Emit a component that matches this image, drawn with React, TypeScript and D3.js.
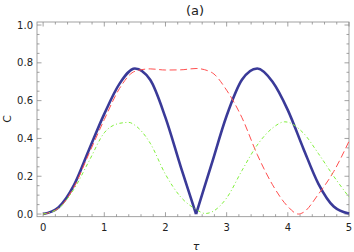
import React, { Component } from 'react';
import * as d3 from 'd3';

// blue (solid) curve, cusp at tau = 2.5
const blueTau = [0, 0.25, 0.5, 0.75, 1.0, 1.25, 1.5, 1.75, 2.0, 2.25, 2.5, 2.75, 3.0, 3.25, 3.5, 3.75, 4.0, 4.25, 4.5, 4.75, 5.0];
const blueC = [0, 0.035, 0.15, 0.34, 0.53, 0.69, 0.77, 0.71, 0.51, 0.25, 0, 0.26, 0.52, 0.71, 0.77, 0.7, 0.55, 0.35, 0.16, 0.04, 0.003];

// red (dashed) curve
const redTau = [0, 0.25, 0.5, 0.75, 1.0, 1.25, 1.5, 1.75, 2.0, 2.25, 2.5, 2.75, 3.0, 3.25, 3.5, 3.75, 4.0, 4.17, 4.25, 4.5, 4.75, 5.0];
const redC = [0, 0.03, 0.14, 0.32, 0.5, 0.665, 0.755, 0.768, 0.762, 0.763, 0.77, 0.75, 0.655, 0.51, 0.315, 0.155, 0.04, 0, 0.008, 0.105, 0.225, 0.385];

// green (dash-dot) curve
const greenTau = [0, 0.25, 0.5, 0.75, 1.0, 1.25, 1.4, 1.5, 1.75, 2.0, 2.25, 2.5, 2.65, 2.75, 3.0, 3.25, 3.5, 3.75, 3.95, 4.25, 4.5, 4.75, 5.0];
const greenC = [0, 0.03, 0.13, 0.28, 0.43, 0.48, 0.485, 0.47, 0.375, 0.21, 0.09, 0.025, 0.003, 0.01, 0.085, 0.23, 0.365, 0.455, 0.488, 0.43, 0.32, 0.2, 0.09];

const xMajor = [0, 1, 2, 3, 4, 5];
const yMajor = [0, 0.2, 0.4, 0.6, 0.8, 1.0];

const W = 354, H = 252;
const frame = { left: 37, right: 349, top: 22, bottom: 216.7 };

class Chart extends Component {
    el: SVGGElement | null = null;

    componentDidMount() {
        this.draw();
    }

    draw() {
        const g = d3.select(this.el);
        g.selectAll('*').remove();

        const x = d3.scaleLinear().domain([-0.1, 5.0]).range([frame.left, frame.right]);
        const y = d3.scaleLinear().domain([-0.014, 1.016]).range([frame.bottom, frame.top]);

        const font = 'DejaVu Sans, sans-serif';
        const frameColor = '#8a8a8a';

        // ticks (inward, all four sides)
        const xMinor = d3.range(0, 5.0001, 0.2).filter(v => !xMajor.some(m => Math.abs(m - v) < 1e-6));
        const yMinor = d3.range(0, 1.0001, 0.05).filter(v => !yMajor.some(m => Math.abs(m - v) < 1e-6));
        const ticks = g.append('g').attr('stroke', frameColor).attr('stroke-width', 0.8);
        const addX = (vals: number[], len: number) => {
            vals.forEach(v => {
                ticks.append('line').attr('x1', x(v)).attr('x2', x(v)).attr('y1', frame.bottom).attr('y2', frame.bottom - len);
                ticks.append('line').attr('x1', x(v)).attr('x2', x(v)).attr('y1', frame.top).attr('y2', frame.top + len);
            });
        };
        const addY = (vals: number[], len: number) => {
            vals.forEach(v => {
                ticks.append('line').attr('y1', y(v)).attr('y2', y(v)).attr('x1', frame.left).attr('x2', frame.left + len);
                ticks.append('line').attr('y1', y(v)).attr('y2', y(v)).attr('x1', frame.right).attr('x2', frame.right - len);
            });
        };
        addX(xMajor, 4.5);
        addX(xMinor, 2.5);
        addY(yMajor, 4.5);
        addY(yMinor, 2.5);

        // frame
        g.append('rect')
            .attr('x', frame.left).attr('y', frame.top)
            .attr('width', frame.right - frame.left).attr('height', frame.bottom - frame.top)
            .attr('fill', 'none').attr('stroke', frameColor).attr('stroke-width', 0.8);

        // tick labels
        g.append('g').selectAll('text').data(xMajor).enter().append('text')
            .attr('x', d => x(d)).attr('y', 231)
            .attr('text-anchor', 'middle')
            .style('font-family', font).style('font-size', '10px').style('fill', '#222')
            .text(d => String(d));
        g.append('g').selectAll('text').data(yMajor).enter().append('text')
            .attr('x', 33).attr('y', d => y(d) + 3.6)
            .attr('text-anchor', 'end')
            .style('font-family', font).style('font-size', '10px').style('fill', '#222')
            .text(d => d.toFixed(1));

        // curves
        const line = d3.line<[number, number]>()
            .x(d => x(d[0])).y(d => y(d[1]))
            .curve(d3.curveMonotoneX);

        const bluePts: [number, number][] = blueTau.map((t, i) => [t, blueC[i]]);
        const cusp = blueTau.indexOf(2.5);
        [bluePts.slice(0, cusp + 1), bluePts.slice(cusp)].forEach(seg => {
            g.append('path').attr('d', line(seg))
                .attr('fill', 'none').attr('stroke', '#3a3a98').attr('stroke-width', 2.6)
                .attr('stroke-linejoin', 'round');
        });

        g.append('path').attr('d', line(redTau.map((t, i) => [t, redC[i]] as [number, number])))
            .attr('fill', 'none').attr('stroke', '#ff4f4f').attr('stroke-width', 1)
            .attr('stroke-dasharray', '7,3.5');

        g.append('path').attr('d', line(greenTau.map((t, i) => [t, greenC[i]] as [number, number])))
            .attr('fill', 'none').attr('stroke', '#7ff03a').attr('stroke-width', 1)
            .attr('stroke-dasharray', '3.5,2.5,1,2.5');

        // titles
        g.append('text').attr('x', 195).attr('y', 14.5).attr('text-anchor', 'middle')
            .style('font-family', font).style('font-size', '13px').style('fill', '#222')
            .text('(a)');
        g.append('text').attr('x', 196).attr('y', 249.5).attr('text-anchor', 'middle')
            .style('font-family', font).style('font-size', '11px').style('font-style', 'italic').style('fill', '#222')
            .text('τ');
        g.append('text').attr('transform', 'translate(10.5,119) rotate(-90)').attr('text-anchor', 'middle')
            .style('font-family', font).style('font-size', '11px').style('fill', '#222')
            .text('C');
    }

    render() {
        return (
            <svg width={W} height={H} style={{ position: 'absolute', left: 0, top: 0, background: '#fff' }}>
                <g ref={el => { this.el = el; }} />
            </svg>
        );
    }
}

export default function App() {
    return <Chart />;
}
